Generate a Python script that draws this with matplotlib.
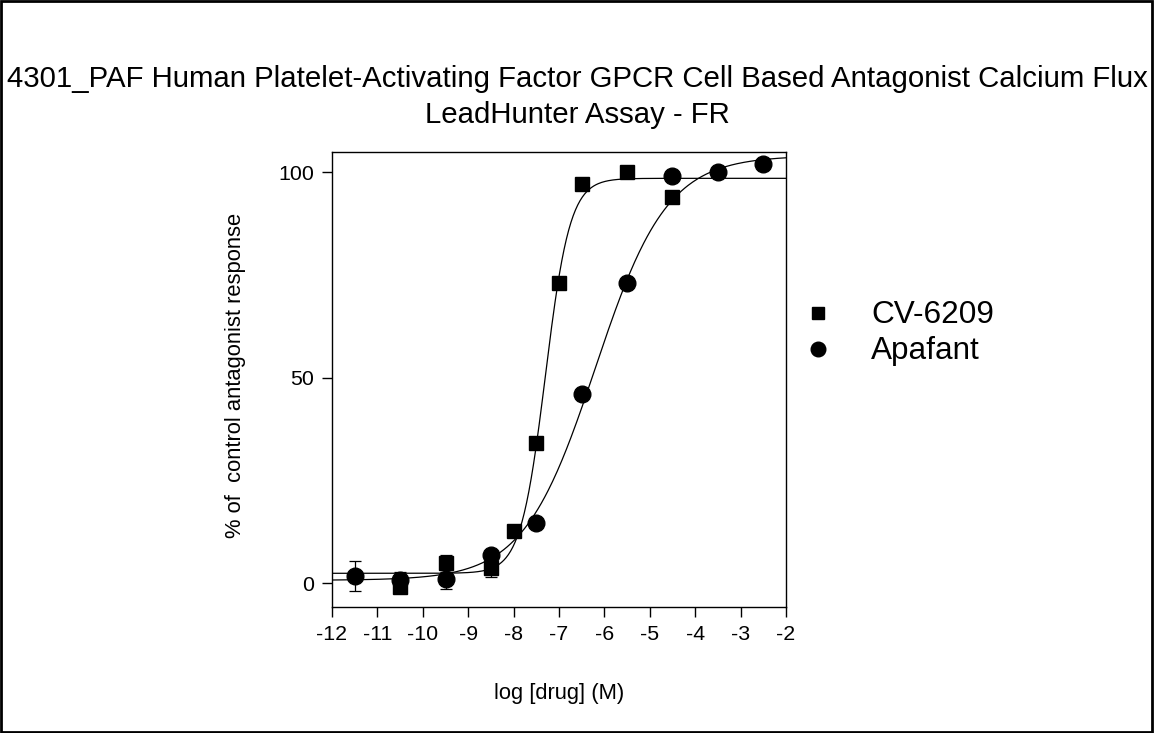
import numpy as np
import matplotlib
matplotlib.use('Agg')
import matplotlib.pyplot as plt
from matplotlib.patches import Rectangle

plt.rcParams['font.family'] = ['Liberation Sans', 'DejaVu Sans']
plt.rcParams['axes.unicode_minus'] = False

# CV-6209 data
cv_x = [-10.5, -9.5, -8.5, -8.0, -7.5, -7.0, -6.5, -5.5, -4.5]
cv_y = [-1.0, 4.8, 3.6, 12.7, 34.0, 73.0, 97.0, 100.0, 94.0]
cv_err = [0, 2.0, 2.1, 0, 0, 0, 0, 0, 0]
# CV-6209 fit (bottom, top, logEC50, hill)
cv_fit = [2.4, 98.5, -7.3, 1.6]

# Apafant data
ap_x = [-11.5, -10.5, -9.5, -8.5, -7.5, -6.5, -5.5, -4.5, -3.5, -2.5]
ap_y = [1.8, 0.7, 0.9, 6.8, 14.7, 46.0, 73.0, 99.0, 100.0, 102.0]
ap_err = [3.6, 2.0, 2.4, 0, 0, 0, 0, 0, 0, 0]
ap_fit = [0.7, 104.0, -6.2, 0.55]

x_ticks = [-12, -11, -10, -9, -8, -7, -6, -5, -4, -3, -2]
y_ticks = [0, 50, 100]


def hill(x, bottom, top, logec50, h):
    return bottom + (top - bottom) / (1 + 10 ** ((logec50 - x) * h))


fig = plt.figure(figsize=(11.54, 7.33), dpi=100)
ax = fig.add_axes([0.2877, 0.1719, 0.3934, 0.6207])

xs = np.linspace(-12, -2, 400)
ax.plot(xs, hill(xs, *cv_fit), color='black', lw=0.9)
ax.plot(xs, hill(xs, *ap_fit), color='black', lw=0.9)

ax.errorbar(cv_x, cv_y, yerr=cv_err, fmt='s', color='black', ms=10.5,
            ecolor='black', elinewidth=0.9, capsize=4, capthick=0.9)
ax.errorbar(ap_x, ap_y, yerr=ap_err, fmt='o', color='black', ms=12,
            ecolor='black', elinewidth=0.9, capsize=4, capthick=0.9)

ax.set_xlim(-12, -2)
ax.set_ylim(-5.8, 104.9)
ax.set_xticks(x_ticks)
ax.set_yticks(y_ticks)
ax.tick_params(direction='out', length=7, width=1, labelsize=15.4, pad=6)
for s in ax.spines.values():
    s.set_linewidth(1)

ax.set_xlabel('log [drug] (M)', fontsize=15.8, labelpad=28)
ax.set_ylabel('% of  control antagonist response', fontsize=15.8)
ax.yaxis.set_label_coords(-0.19, 0.51)

fig.text(0.5, 1 - 79 / 733, '4301_PAF Human Platelet-Activating Factor GPCR Cell Based Antagonist Calcium Flux',
         ha='center', va='center', fontsize=21.2)
fig.text(0.5, 1 - 115 / 733, 'LeadHunter Assay - FR', ha='center', va='center', fontsize=21.2)

# legend
fig.lines.append(plt.Line2D([818 / 1154], [1 - 313 / 733], marker='s', ms=8.5, color='black',
                            transform=fig.transFigure))
fig.lines.append(plt.Line2D([818 / 1154], [1 - 349 / 733], marker='o', ms=10.5, color='black',
                            transform=fig.transFigure))
fig.text(871 / 1154, 1 - 315 / 733, 'CV-6209', ha='left', va='center', fontsize=22.7)
fig.text(871 / 1154, 1 - 351 / 733, 'Apafant', ha='left', va='center', fontsize=22.7)

fig.patches.append(Rectangle((0.001, 0.001), 0.997, 0.997, transform=fig.transFigure,
                             fill=False, edgecolor='black', lw=2))

fig.savefig('out.png', dpi=100)
